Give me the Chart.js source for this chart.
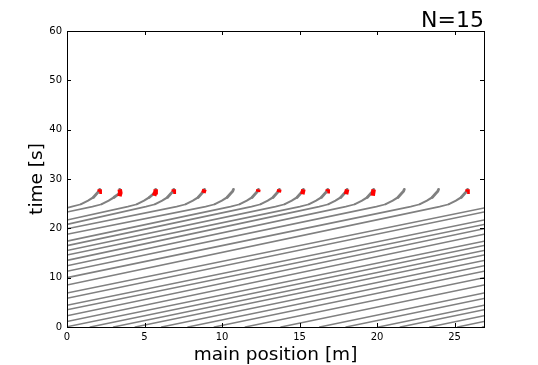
<!DOCTYPE html>
<html>
<head>
<meta charset="utf-8">
<script src="https://cdn.jsdelivr.net/npm/chart.js@4.4.1/dist/chart.umd.min.js"></script>
<style>
  html, body { margin: 0; padding: 0; background: #fff; }
  #wrap { width: 538px; height: 365px; }
</style>
</head>
<body>
<div id="wrap"><canvas id="grafica" width="538" height="365"></canvas></div>
<script>
// ring length = right end of the x axis
const ringLength = 26.9;

// position of each pedestrian at t = 0 [m]
const startPos = [16.3, 18.0, 20.1, 21.5, 23.4, 25.2, 26.8, 1.5, 3.0, 4.4, 6.1, 7.8, 9.5, 11.5, 13.8];

// times at which each pedestrian passes the end of the ring and reappears at 0 [s]
const wrapTimes = [
    [6.9, 24.15], [5.8, 23.3], [4.4, 21.7], [3.5, 20.8], [2.3, 19.9],
    [1.1, 18.8], [0.05, 17.4], [16.5], [15.5], [14.6],
    [13.5], [12.4], [11.3], [10.0], [8.5]
];

// last part of every trajectory, where they slow down and stop [x, t]
const stopTracks = [
    [[0.31,24.4],[0.91,24.9],[1.36,25.6],[1.71,26.3],[1.91,27.0],[2.06,27.5],[2.11,27.9]],
    [[1.64,24.4],[2.24,24.9],[2.69,25.6],[3.04,26.3],[3.3,26.9],[3.44,27.4],[3.4,27.9]],
    [[3.92,24.4],[4.52,24.9],[4.97,25.6],[5.32,26.3],[5.55,26.9],[5.7,27.4],[5.72,27.9]],
    [[5.09,24.4],[5.69,24.9],[6.14,25.6],[6.49,26.3],[6.69,27.0],[6.84,27.5],[6.89,27.9]],
    [[7.07,24.4],[7.67,24.9],[8.12,25.6],[8.47,26.3],[8.67,27.0],[8.82,27.5],[8.87,27.9]],
    [[8.94,24.4],[9.54,24.9],[9.99,25.6],[10.34,26.3],[10.54,27.0],[10.69,27.5],[10.74,27.9]],
    [[10.55,24.4],[11.15,24.9],[11.6,25.6],[11.95,26.3],[12.15,27.0],[12.3,27.5],[12.35,27.9]],
    [[11.9,24.4],[12.5,24.9],[12.95,25.6],[13.3,26.3],[13.5,27.0],[13.65,27.5],[13.7,27.9]],
    [[13.45,24.4],[14.05,24.9],[14.5,25.6],[14.85,26.3],[15.05,27.0],[15.2,27.5],[15.25,27.9]],
    [[15.02,24.4],[15.62,24.9],[16.07,25.6],[16.42,26.3],[16.62,27.0],[16.77,27.5],[16.82,27.9]],
    [[16.27,24.4],[16.87,24.9],[17.32,25.6],[17.67,26.3],[17.87,27.0],[18.02,27.5],[18.07,27.9]],
    [[17.98,24.4],[18.58,24.9],[19.03,25.6],[19.38,26.3],[19.58,27.0],[19.73,27.5],[19.78,27.9]],
    [[19.96,24.4],[20.56,24.9],[21.01,25.6],[21.36,26.3],[21.56,27.0],[21.71,27.5],[21.76,27.9]],
    [[22.17,24.4],[22.77,24.9],[23.22,25.6],[23.57,26.3],[23.77,27.0],[23.92,27.5],[23.97,27.9]],
    [[24.04,24.4],[24.64,24.9],[25.09,25.6],[25.44,26.3],[25.64,27.0],[25.79,27.5],[25.84,27.9]]
];

// red marks where the pedestrian stands still (null = none visible)
const redMarks = [
    [[2.08,27.4],[2.11,27.9]],
    [[3.38,26.5],[3.44,27.2],[3.4,27.9]],
    [[5.62,26.6],[5.7,27.3],[5.72,27.9]],
    [[6.85,27.4],[6.89,27.9]],
    [[8.8,27.2],[8.87,27.9]],
    null,
    [[12.32,27.4],[12.35,27.9]],
    [[13.66,27.3],[13.7,27.9]],
    [[15.18,26.9],[15.25,27.9]],
    [[16.79,27.5],[16.82,27.9]],
    [[18.0,26.9],[18.07,27.9]],
    [[19.72,26.6],[19.78,27.9]],
    null,
    null,
    [[25.81,27.4],[25.84,27.9]]
];

const xTicks = [0, 5, 10, 15, 20, 25];
const yTicks = [0, 10, 20, 30, 40, 50, 60];

const fuente = 'DejaVu Sans';
const gris = 'rgb(128,128,128)';

function linea(puntos, color, ancho, orden, tapa = 'round') {
    return {
        data: puntos,
        showLine: true,
        borderColor: color,
        borderWidth: ancho,
        borderCapStyle: tapa,
        pointRadius: 0,
        fill: false,
        tension: 0,
        order: orden
    };
}

const datasets = [];
for (let i = 0; i < startPos.length; i++) {
    let pts = [{x: startPos[i], y: 0}];
    wrapTimes[i].forEach(w => {
        pts.push({x: ringLength, y: w});
        datasets.push(linea(pts, gris, 1.5, 3));
        pts = [{x: 0, y: w}];
    });
    const curva = stopTracks[i].map(p => ({x: p[0], y: p[1]}));
    pts.push(curva[0], curva[1]);
    datasets.push(linea(pts, gris, 1.6, 3));
    datasets.push(linea(curva.slice(1, 4), gris, 2.1, 2));
    datasets.push(linea(curva.slice(3), gris, 2.8, 1));
    if (redMarks[i]) {
        datasets.push(linea(redMarks[i].map(p => ({x: p[0], y: p[1]})), 'rgb(255,0,0)', 4.5, 0, 'butt'));
    }
}

// frame, inward ticks and texts like matplotlib
const marco = {
    id: 'marco',
    afterDraw(chart) {
        const ctx = chart.ctx;
        const a = chart.chartArea;
        const sx = chart.scales.x, sy = chart.scales.y;
        ctx.save();
        ctx.strokeStyle = '#000';
        ctx.lineWidth = 1;
        ctx.beginPath();
        xTicks.forEach(v => {
            const px = Math.round(sx.getPixelForValue(v)) + 0.5;
            ctx.moveTo(px, a.bottom); ctx.lineTo(px, a.bottom - 4);
            ctx.moveTo(px, a.top); ctx.lineTo(px, a.top + 4);
        });
        yTicks.forEach(v => {
            const py = Math.round(sy.getPixelForValue(v)) + 0.5;
            ctx.moveTo(a.left, py); ctx.lineTo(a.left + 4, py);
            ctx.moveTo(a.right, py); ctx.lineTo(a.right - 4, py);
        });
        ctx.stroke();
        ctx.strokeRect(Math.round(a.left) + 0.5, Math.round(a.top) + 0.5,
            Math.round(a.right - a.left), Math.round(a.bottom - a.top));

        ctx.fillStyle = '#000';
        ctx.font = '22px "' + fuente + '"';
        ctx.textAlign = 'right';
        ctx.textBaseline = 'alphabetic';
        ctx.fillText('N=15', a.right, 27);

        ctx.font = '18.5px "' + fuente + '"';
        ctx.textAlign = 'center';
        ctx.textBaseline = 'middle';
        ctx.fillText('main position [m]', (a.left + a.right) / 2, 355);

        ctx.translate(37, (a.top + a.bottom) / 2);
        ctx.rotate(-Math.PI / 2);
        ctx.fillText('time [s]', 0, 0);
        ctx.restore();
    }
};

new Chart('grafica', {
    type: 'scatter',
    data: { datasets: datasets },
    options: {
        responsive: false,
        animation: false,
        layout: { padding: { top: 31, right: 54, left: 0, bottom: 0 } },
        plugins: {
            legend: { display: false },
            tooltip: { enabled: false },
            title: { display: false }
        },
        scales: {
            x: {
                type: 'linear',
                min: 0,
                max: ringLength,
                afterFit: s => { s.height = 38; },
                grid: { display: false, drawTicks: false },
                border: { display: false },
                ticks: {
                    stepSize: 5,
                    includeBounds: false,
                    padding: 4,
                    color: '#000',
                    font: { family: fuente, size: 10 },
                    maxRotation: 0
                }
            },
            y: {
                type: 'linear',
                min: 0,
                max: 60,
                afterFit: s => { s.width = 67; },
                grid: { display: false, drawTicks: false },
                border: { display: false },
                ticks: {
                    stepSize: 10,
                    padding: 5,
                    color: '#000',
                    font: { family: fuente, size: 10 }
                }
            }
        }
    },
    plugins: [marco]
});
</script>
</body>
</html>
